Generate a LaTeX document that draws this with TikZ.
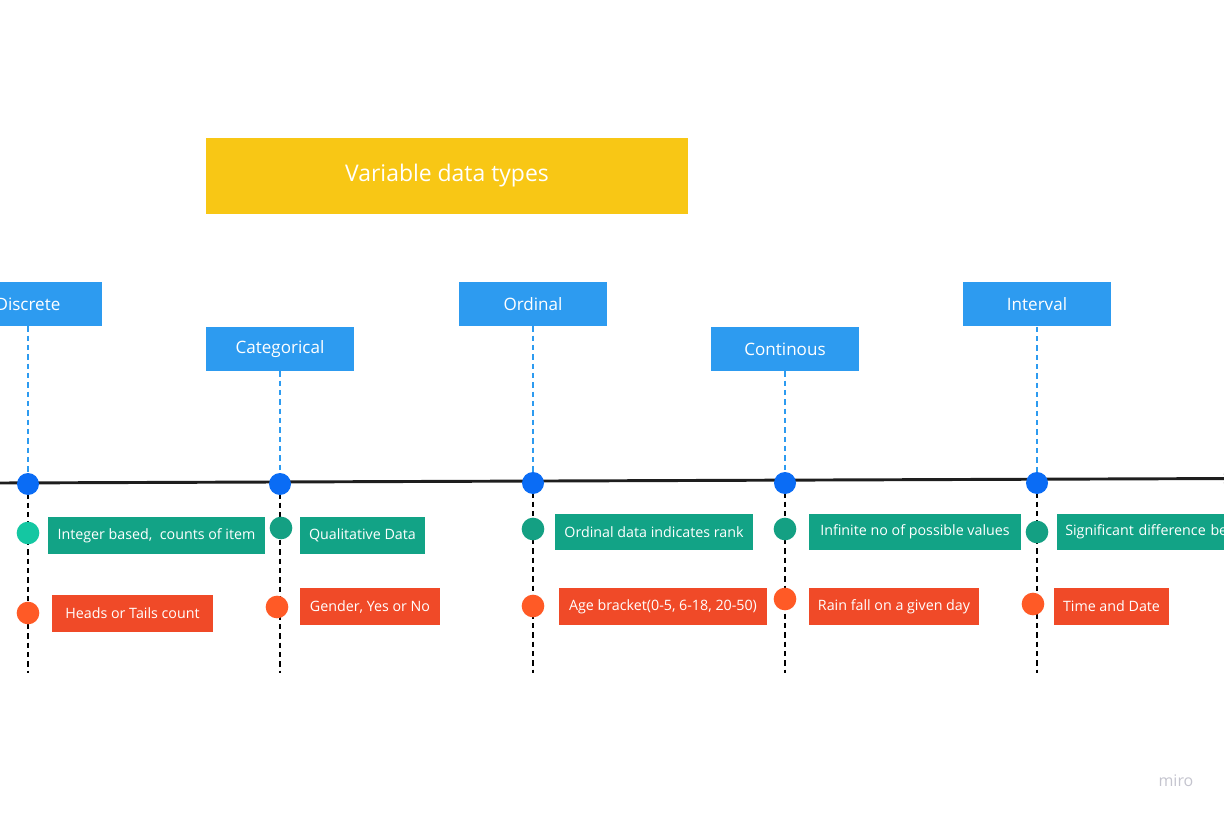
\documentclass[tikz,border=0pt]{standalone}
\usepackage{fontspec}
\setmainfont{Open Sans}
\usetikzlibrary{backgrounds,arrows}
\definecolor{titleyellow}{HTML}{F8C715}
\definecolor{typeblue}{HTML}{2D9BF0}
\definecolor{dotblue}{HTML}{0A6CF5}
\definecolor{notegreen}{HTML}{12A386}
\definecolor{dotgreen}{HTML}{14A083}
\definecolor{dotteal}{HTML}{14C7A2}
\definecolor{notered}{HTML}{F04A28}
\definecolor{dotred}{HTML}{FF5A26}
\definecolor{linegray}{HTML}{1E1E1E}
\definecolor{mirogray}{HTML}{C4C4CE}

\begin{document}
\begin{tikzpicture}[x=0.75pt,y=-0.75pt,
    titlebox/.style={fill=titleyellow,text=white,minimum width=361.5pt,minimum height=57pt,inner sep=0pt,font=\fontsize{17.2}{20}\selectfont},
    typebox/.style={fill=typeblue,text=white,minimum width=111.5pt,minimum height=33pt,inner sep=0pt,font=\fontsize{12.8}{15}\selectfont},
    note/.style={text=white,minimum height=27.5pt,inner sep=0pt,font=\fontsize{10.7}{13}\selectfont},
    point/.style={circle,fill=dotblue,minimum size=16.5pt,inner sep=0pt},
    dot/.style={circle,minimum size=17pt,inner sep=0pt},
    timeline/.style={draw=linegray,line width=2.2pt,-latex'},
    guide/.style={draw=typeblue,line width=0.9pt,dash pattern=on 4pt off 3pt},
    stem/.style={draw=black,line width=0.9pt,dash pattern=on 4pt off 3pt}]
    \useasboundingbox (0,0) rectangle (1224,816);
    \clip (0,0) rectangle (1224,816);

    \node[titlebox] (title) at (447,176) {Variable data types};

    % types and points on the line
    \foreach \i/\px/\py/\ty/\lbl in {1/28/484/304/Discrete,2/280/484/349/Categorical,3/533/483/304/Ordinal,4/785/483/349/Continous,5/1037/483/304.5/Interval}
    {
      \node[typebox] (t\i) at (\px,\ty) {\lbl};
      \node[point] (p\i) at (\px,\py) {};
      \coordinate (e\i) at (\px,673);
    }

    % green notes
    \foreach \i/\dx/\dy/\col/\nx/\ny/\w/\txt in {1/28/533/dotteal/156.5/535.5/217/{Integer based, \ counts of item},2/281/528/dotgreen/362.5/535.5/125/{Qualitative Data},3/533/529/dotgreen/654/532/198/{Ordinal data indicates rank},4/785/529/dotgreen/915/532/212/{Infinite no of possible values}}
    {
      \node[dot,fill=\col] (g\i) at (\dx,\dy) {};
      \node[note,fill=notegreen,minimum width=\w*0.75pt] (gn\i) at (\nx,\ny) {\txt};
    }
    \node[dot,fill=dotgreen] (g5) at (1037,532) {};
    \node[note,fill=notegreen,anchor=west,inner xsep=6pt,text width=150pt,align=left] (gn5) at (1057,532) {Significant difference be};

    % red notes
    \foreach \i/\dx/\dy/\nx/\ny/\w/\txt in {1/28/613/132.5/613.5/161/{Heads or Tails count},2/277/607/370/606.5/140/{Gender, Yes or No},3/533/606/663/606.5/208/{Age bracket(0-5, 6-18, 20-50)},4/785/599/894/606.5/170/{Rain fall on a given day},5/1033/604/1111.5/606.5/115/{Time and Date}}
    {
      \node[dot,fill=dotred] (r\i) at (\dx,\dy) {};
      \node[note,fill=notered,minimum width=\w*0.75pt] (rn\i) at (\nx,\ny) {\txt};
    }

    \node[text=mirogray,font=\fontsize{12}{14}\selectfont] (miro) at (1176,781) {miro};

    \coordinate (tlstart) at (0,483);
    \coordinate (tlend) at (1236,478.5);

    \begin{scope}[on background layer]
      \draw[timeline] (tlstart) -- (tlend);
      \foreach \i in {1,...,5}
      {
        \draw[guide] (t\i) -- (p\i.center);
        \draw[stem] (p\i.center) -- (e\i);
      }
    \end{scope}
\end{tikzpicture}
\end{document}
